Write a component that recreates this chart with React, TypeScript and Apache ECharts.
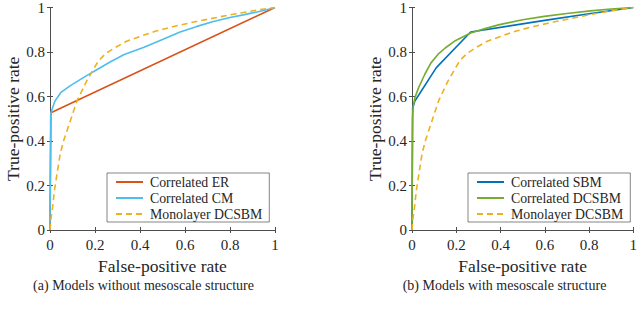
import React, { useEffect, useRef } from "react";
import * as echarts from "echarts";

const tickValues = [0, 0.2, 0.4, 0.6, 0.8, 1];

const correlatedER: number[][] = [
  [0, 0], [0.004, 0.527], [1, 1],
];

const correlatedCM: number[][] = [
  [0, 0], [0.003, 0.52], [0.007, 0.536], [0.022, 0.58], [0.05, 0.62], [0.089, 0.648],
  [0.15, 0.686], [0.2, 0.716], [0.267, 0.755], [0.33, 0.789], [0.415, 0.82], [0.5, 0.856],
  [0.578, 0.89], [0.65, 0.914], [0.726, 0.937], [0.8, 0.955], [0.859, 0.967], [0.92, 0.98],
  [0.963, 0.99], [1, 1],
];

const monolayerDCSBM: number[][] = [
  [0, 0], [0.004, 0.05], [0.01, 0.09], [0.02, 0.18], [0.034, 0.27], [0.045, 0.34],
  [0.06, 0.4], [0.09, 0.49], [0.12, 0.58], [0.163, 0.67], [0.215, 0.76], [0.25, 0.795],
  [0.3, 0.826], [0.34, 0.848], [0.4, 0.87], [0.467, 0.893], [0.55, 0.915], [0.65, 0.937],
  [0.8, 0.967], [0.93, 0.99], [1, 1],
];

const correlatedSBM: number[][] = [
  [0, 0], [0.003, 0.55], [0.013, 0.58], [0.11, 0.73], [0.265, 0.89], [0.6, 0.942],
  [0.8, 0.972], [1, 1],
];

const correlatedDCSBM: number[][] = [
  [0, 0], [0.002, 0.5], [0.005, 0.55], [0.013, 0.595], [0.03, 0.64], [0.058, 0.7],
  [0.085, 0.75], [0.117, 0.789], [0.15, 0.818], [0.191, 0.848], [0.265, 0.885],
  [0.33, 0.905], [0.391, 0.922], [0.5, 0.945], [0.598, 0.96], [0.7, 0.973],
  [0.806, 0.985], [0.9, 0.993], [1, 1],
];

const xAxisTitle = "False-positive rate";
const yAxisTitle = "True-positive rate";
const captionA = "(a) Models without mesoscale structure";
const captionB = "(b) Models with mesoscale structure";

const FONT = "'Liberation Serif', 'DejaVu Serif', serif";
const AXIS_COLOR = "#4d4d4d";
const TEXT_COLOR = "#262626";

function mainX(gridIndex: number, withName: boolean) {
  return {
    type: "value",
    gridIndex,
    min: 0,
    max: 1,
    interval: 0.2,
    position: "bottom",
    name: withName ? xAxisTitle : "",
    nameLocation: "middle",
    nameGap: 24,
    nameTextStyle: { fontFamily: FONT, fontSize: 17.5, color: TEXT_COLOR },
    axisLine: { show: true, lineStyle: { color: AXIS_COLOR, width: 1 } },
    axisTick: { show: true, inside: true, length: 3, lineStyle: { color: AXIS_COLOR } },
    axisLabel: {
      show: true, margin: 7, fontFamily: FONT, fontSize: 15, color: TEXT_COLOR,
      formatter: (v: number) => (tickValues.includes(Math.round(v * 10) / 10) ? String(Math.round(v * 10) / 10) : ""),
    },
    splitLine: { show: false },
  };
}

function boxX(gridIndex: number) {
  return {
    type: "value", gridIndex, min: 0, max: 1, interval: 0.2, position: "top",
    axisLine: { show: true, lineStyle: { color: AXIS_COLOR, width: 1 } },
    axisTick: { show: true, inside: true, length: 3, lineStyle: { color: AXIS_COLOR } },
    axisLabel: { show: false }, splitLine: { show: false },
  };
}

function mainY(gridIndex: number) {
  return {
    type: "value",
    gridIndex,
    min: 0,
    max: 1,
    interval: 0.2,
    position: "left",
    name: yAxisTitle,
    nameLocation: "middle",
    nameGap: 27,
    nameTextStyle: { fontFamily: FONT, fontSize: 17.5, color: TEXT_COLOR },
    axisLine: { show: true, lineStyle: { color: AXIS_COLOR, width: 1 } },
    axisTick: { show: true, inside: true, length: 3, lineStyle: { color: AXIS_COLOR } },
    axisLabel: {
      show: true, margin: 5, fontFamily: FONT, fontSize: 15, color: TEXT_COLOR,
      formatter: (v: number) => String(Math.round(v * 10) / 10),
    },
    splitLine: { show: false },
  };
}

function boxY(gridIndex: number) {
  return {
    type: "value", gridIndex, min: 0, max: 1, interval: 0.2, position: "right",
    axisLine: { show: true, lineStyle: { color: AXIS_COLOR, width: 1 } },
    axisTick: { show: true, inside: true, length: 3, lineStyle: { color: AXIS_COLOR } },
    axisLabel: { show: false }, splitLine: { show: false },
  };
}

function lineSeries(name: string, data: number[][], color: string, axis: number, dashed = false) {
  return {
    type: "line",
    name,
    data,
    xAxisIndex: axis,
    yAxisIndex: axis,
    showSymbol: false,
    symbol: "none",
    smooth: false,
    lineStyle: { color, width: 1.6, type: dashed ? [6, 4] : "solid" },
    itemStyle: { color },
  };
}

export default function App() {
  const ref = useRef<HTMLDivElement>(null);
  useEffect(() => {
    document.body.style.margin = "0";
    if (!ref.current) return;
    const chart = echarts.init(ref.current, undefined, { renderer: "svg" });
    const legendCommon = {
      orient: "vertical",
      itemWidth: 27,
      itemHeight: 14,
      itemGap: 2,
      padding: [2, 7, 1, 8],
      backgroundColor: "#ffffff",
      borderColor: "#333333",
      borderWidth: 0.6,
      itemStyle: { opacity: 0 },
      textStyle: { fontFamily: FONT, fontSize: 13.8, color: TEXT_COLOR, padding: [0, 0, 0, 2] },
      selectedMode: false,
    };
    chart.setOption({
      animation: false,
      backgroundColor: "#ffffff",
      grid: [
        { left: 50, top: 6, width: 225, height: 224 },
        { left: 412, top: 6, width: 225, height: 224 },
      ],
      xAxis: [mainX(0, true), boxX(0), mainX(1, true), boxX(1)],
      yAxis: [
        mainY(0), boxY(0),
        { ...mainY(1), nameGap: 28 }, boxY(1),
      ],
      legend: [
        { ...legendCommon, left: 107, top: 173, data: ["Correlated ER", "Correlated CM", "Monolayer DCSBM"] },
        { ...legendCommon, left: 468, top: 173, data: ["Correlated SBM", "Correlated DCSBM", "Monolayer DCSBM"] },
      ],
      graphic: [
        {
          type: "text", x: 143.5, y: 285,
          style: { text: captionA, fontFamily: FONT, fontSize: 14, fill: TEXT_COLOR, textAlign: "center", textVerticalAlign: "middle" },
        },
        {
          type: "text", x: 504.5, y: 285,
          style: { text: captionB, fontFamily: FONT, fontSize: 14, fill: TEXT_COLOR, textAlign: "center", textVerticalAlign: "middle" },
        },
      ],
      series: [
        lineSeries("Correlated ER", correlatedER, "#D95319", 0),
        lineSeries("Correlated CM", correlatedCM, "#4DBEEE", 0),
        lineSeries("Monolayer DCSBM", monolayerDCSBM, "#EDB120", 0, true),
        lineSeries("Correlated SBM", correlatedSBM, "#0072BD", 2),
        lineSeries("Correlated DCSBM", correlatedDCSBM, "#77AC30", 2),
        lineSeries("Monolayer DCSBM", monolayerDCSBM, "#EDB120", 2, true),
      ],
    });
    return () => chart.dispose();
  }, []);
  return <div ref={ref} style={{ width: 640, height: 311 }} />;
}
